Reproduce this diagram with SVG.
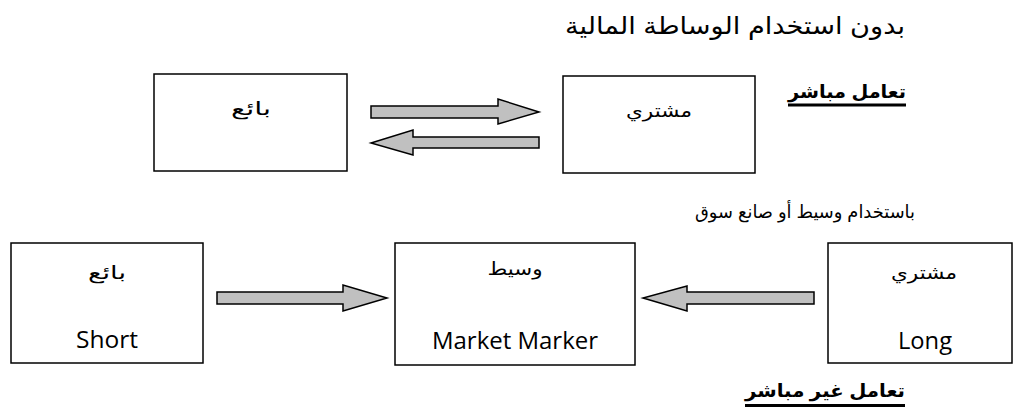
<svg xmlns="http://www.w3.org/2000/svg" width="1015" height="408" viewBox="0 0 1015 408">
  <style>
    .box { fill: #ffffff; stroke: #000000; stroke-width: 1.5; }
    .arrow { fill: #c0c0c0; stroke: #000000; stroke-width: 1.5; stroke-linejoin: miter; }
    .ar { font-family: "Liberation Sans", "DejaVu Sans", sans-serif; fill: #000000; text-anchor: middle; }
    .en { font-family: "Open Sans", "Liberation Sans", sans-serif; fill: #000000; text-anchor: middle; }
    .lbl { font-weight: bold; }
    .uline { stroke: #000000; stroke-width: 3; }
  </style>
  <rect width="1015" height="408" fill="#ffffff"/>

  <g id="title-direct">
    <text class="ar" x="735" y="34" font-size="24" textLength="340" lengthAdjust="spacingAndGlyphs">بدون استخدام الوساطة المالية</text>
  </g>
  <g id="label-direct">
    <text class="ar lbl" x="847" y="98" font-size="18" textLength="118" lengthAdjust="spacingAndGlyphs">تعامل مباشر</text>
    <line class="uline" x1="788" y1="105" x2="906" y2="105"/>
  </g>

  <g id="seller-top">
    <rect class="box" x="154" y="74" width="193" height="97"/>
    <text class="ar" x="251" y="115" font-size="18" textLength="40" lengthAdjust="spacingAndGlyphs">بائع</text>
  </g>
  <g id="buyer-top">
    <rect class="box" x="563" y="76" width="192" height="97"/>
    <text class="ar" x="659" y="117" font-size="18" textLength="66" lengthAdjust="spacingAndGlyphs">مشتري</text>
  </g>

  <g id="title-indirect">
    <text class="ar" x="805" y="218" font-size="18" textLength="220" lengthAdjust="spacingAndGlyphs">باستخدام وسيط أو صانع سوق</text>
  </g>

  <g id="seller-bottom">
    <rect class="box" x="11" y="243" width="192" height="120"/>
    <text class="ar" x="107" y="279" font-size="18" textLength="38" lengthAdjust="spacingAndGlyphs">بائع</text>
    <text class="en" x="107" y="348" font-size="24" textLength="62" lengthAdjust="spacingAndGlyphs">Short</text>
  </g>
  <g id="broker">
    <rect class="box" x="395" y="243" width="240" height="122"/>
    <text class="ar" x="515" y="275" font-size="18" textLength="55" lengthAdjust="spacingAndGlyphs">وسيط</text>
    <text class="en" x="515" y="349" font-size="24" textLength="166" lengthAdjust="spacingAndGlyphs">Market Marker</text>
  </g>
  <g id="buyer-bottom">
    <rect class="box" x="828" y="243" width="184" height="120"/>
    <text class="ar" x="924" y="279" font-size="18" textLength="66" lengthAdjust="spacingAndGlyphs">مشتري</text>
    <text class="en" x="925" y="349" font-size="24" textLength="54" lengthAdjust="spacingAndGlyphs">Long</text>
  </g>

  <g id="label-indirect">
    <text class="ar lbl" x="825" y="397" font-size="18" textLength="160" lengthAdjust="spacingAndGlyphs">تعامل غير مباشر</text>
    <line class="uline" x1="745" y1="405.5" x2="905" y2="405.5"/>
  </g>

  <g id="connectors">
    <polygon class="arrow" points="371,106 498,106 498,99 539,112 498,124 498,118 371,118"/>
    <polygon class="arrow" points="539,137 413,137 413,130 371,143 413,155 413,148 539,148"/>
    <polygon class="arrow" points="217,292 343,292 343,285 387,298 343,311 343,304 217,304"/>
    <polygon class="arrow" points="814,292 687,292 687,286 643,298 687,311 687,304 814,304"/>
  </g>
</svg>
